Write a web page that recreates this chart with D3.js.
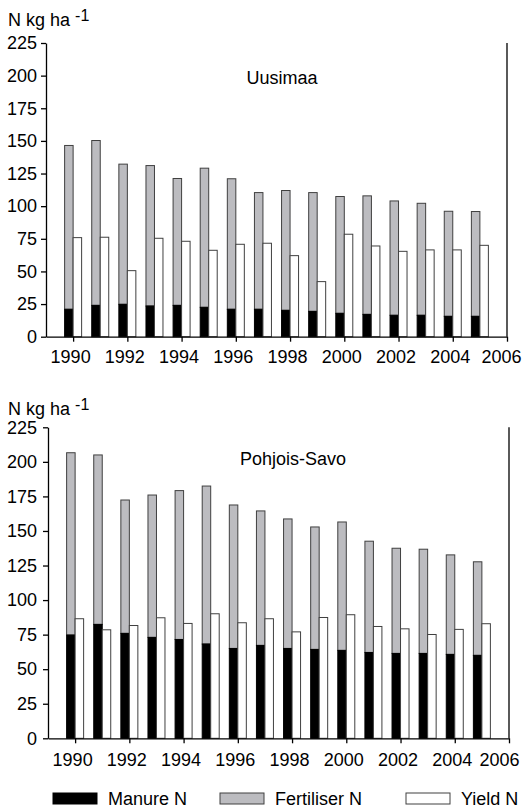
<!DOCTYPE html>
<html>
<head>
<meta charset="utf-8">
<script src="https://cdn.jsdelivr.net/npm/d3@7"></script>
<style>
  body { margin: 0; background: #fff; }
  text { font-family: "Liberation Sans", Arial, sans-serif; }
</style>
</head>
<body>
<svg id="chart" width="524" height="810"></svg>
<script>
var years = [1990,1991,1992,1993,1994,1995,1996,1997,1998,1999,2000,2001,2002,2003,2004,2005];
var yTicks = [0,25,50,75,100,125,150,175,200,225];
var xTicks = [1990,1992,1994,1996,1998,2000,2002,2004,2006];
var seriesNames = ["Manure N", "Fertiliser N", "Yield N"];

// Uusimaa
var uusiManure = [21,24,24.8,23.5,24,22.5,21,21,20.2,19.4,17.9,17.1,16.4,16.4,15.6,15.6];
var uusiFert   = [125.5,126.3,107.4,107.6,97.2,106.6,100,89.4,91.8,91,89.5,90.8,87.6,85.8,80.5,80.3];
var uusiYield  = [75.9,76.2,50.6,75.4,73.1,66.2,70.8,71.6,62.1,42.2,78.5,69.5,65.4,66.5,66.5,70];

// Pohjois-Savo
var savoManure = [74.7,82.4,75.9,73,71.5,68.2,65,67.2,65,64.3,63.6,62.1,61.4,61.4,60.7,60];
var savoFert   = [131.9,122.6,96.5,103,107.7,114.3,103.8,97.3,93.7,88.6,92.9,80.5,76.1,75.4,72,67.7];
var savoYield  = [86.5,78.5,81.6,87.2,83.1,90.1,83.6,86.5,77,87.4,89.4,80.9,79.2,75.1,78.8,82.9];

var colors = {manure: "#000000", fert: "#bcbcc0", yield: "#ffffff"};
var barStroke = "#404040";
var barW = 8.5;

var svg = d3.select('#chart');

function drawPanel(opt, manure, fert, yld){
  var x = d3.scaleLinear().domain([1989, 2006]).range([opt.left, opt.right]);
  var y = d3.scaleLinear().domain([0, 225]).range([opt.bottom, opt.top]);
  var g = svg.append('g');

  // y axis label with superscript
  var lab = g.append('text')
    .attr('x', 8).attr('y', opt.labelY)
    .attr('font-size', 18).attr('fill', '#000');
  lab.append('tspan').text('N kg ha ');
  lab.append('tspan').attr('dy', -5).attr('font-size', 16).text('-1');

  // title
  g.append('text')
    .attr('x', opt.titleX).attr('y', opt.titleY)
    .attr('text-anchor', 'middle')
    .attr('font-size', 18)
    .text(opt.title);

  var data = years.map(function(yr, i){
    return {year: yr, manure: manure[i], fert: fert[i], yld: yld[i]};
  });

  // fertiliser (stacked on manure)
  g.selectAll('.fert').data(data).enter().append('rect')
    .attr('x', function(d){ return x(d.year) - barW; })
    .attr('y', function(d){ return y(d.manure + d.fert); })
    .attr('width', barW)
    .attr('height', function(d){ return y(d.manure) - y(d.manure + d.fert); })
    .attr('fill', colors.fert).attr('stroke', barStroke).attr('stroke-width', 1);

  g.selectAll('.manure').data(data).enter().append('rect')
    .attr('x', function(d){ return x(d.year) - barW; })
    .attr('y', function(d){ return y(d.manure); })
    .attr('width', barW)
    .attr('height', function(d){ return y(0) - y(d.manure); })
    .attr('fill', colors.manure).attr('stroke', '#000').attr('stroke-width', 1);

  g.selectAll('.yld').data(data).enter().append('rect')
    .attr('x', function(d){ return x(d.year); })
    .attr('y', function(d){ return y(d.yld); })
    .attr('width', barW)
    .attr('height', function(d){ return y(0) - y(d.yld); })
    .attr('fill', colors.yield).attr('stroke', barStroke).attr('stroke-width', 1);

  // right border
  g.append('line')
    .attr('x1', x(2006)).attr('x2', x(2006))
    .attr('y1', y(225)).attr('y2', y(0))
    .attr('stroke', '#000').attr('stroke-width', 1.3);

  var xAxis = g.append('g')
    .attr('transform', 'translate(0,' + y(0) + ')')
    .call(d3.axisBottom(x).tickValues(xTicks).tickFormat(d3.format('d'))
      .tickSize(5).tickSizeOuter(0).tickPadding(opt.xPad));
  var yAxis = g.append('g')
    .attr('transform', 'translate(' + x(1989) + ',0)')
    .call(d3.axisLeft(y).tickValues(yTicks).tickSize(5).tickSizeOuter(0).tickPadding(opt.yPad));

  [xAxis, yAxis].forEach(function(a){
    a.select('.domain').attr('stroke', '#000').attr('stroke-width', 1.3);
    a.selectAll('.tick line').attr('stroke', '#000').attr('stroke-width', 1.3);
    a.selectAll('.tick text').attr('font-size', 18).attr('fill', '#000')
      .attr('font-family', '"Liberation Sans", Arial, sans-serif');
  });

  // year labels sit a little left of their ticks; the last one is pulled in to fit
  xAxis.selectAll('.tick text')
    .attr('dx', function(d){ return d === 2006 ? opt.lastShift : -3; });
}

drawPanel({left: 46, right: 507, top: 43, bottom: 336.7, labelY: 26, title: 'Uusimaa',
           titleX: 282, titleY: 84, xPad: 8.6, yPad: 4, lastShift: -6}, uusiManure, uusiFert, uusiYield);
drawPanel({left: 48, right: 509, top: 427.3, bottom: 738.3, labelY: 415, title: 'Pohjois-Savo',
           titleX: 293, titleY: 465, xPad: 10.3, yPad: 6, lastShift: -10}, savoManure, savoFert, savoYield);

// legend
var legendItems = [
  {name: seriesNames[0], fill: colors.manure, stroke: '#000', x: 53},
  {name: seriesNames[1], fill: colors.fert, stroke: barStroke, x: 220},
  {name: seriesNames[2], fill: colors.yield, stroke: barStroke, x: 406}
];
var leg = svg.append('g').selectAll('g').data(legendItems).enter().append('g')
  .attr('transform', function(d){ return 'translate(' + d.x + ',793)'; });
leg.append('rect').attr('width', 44).attr('height', 11)
  .attr('fill', function(d){ return d.fill; })
  .attr('stroke', function(d){ return d.stroke; });
leg.append('text').attr('x', 55).attr('y', 12).attr('font-size', 18)
  .text(function(d){ return d.name; });
</script>
</body>
</html>
